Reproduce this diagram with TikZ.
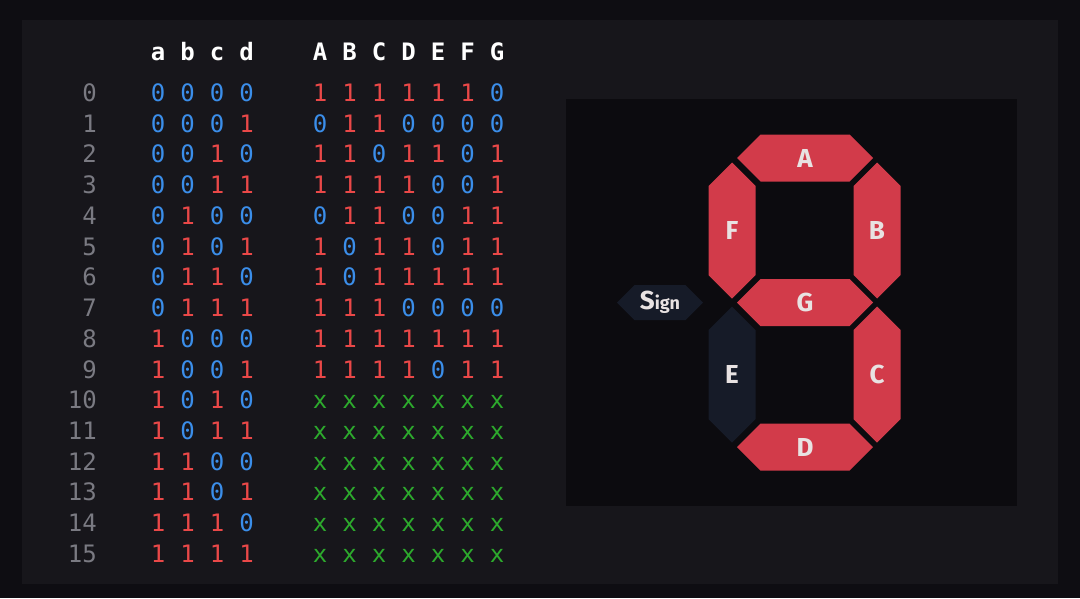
\documentclass[tikz,border=0pt]{standalone}
\usepackage{fontspec}
\setmonofont{DejaVu Sans Mono}
\setsansfont{Fira Sans}
\definecolor{bgout}{HTML}{0E0D12}
\definecolor{bgpanel}{HTML}{17161B}
\definecolor{bgbox}{HTML}{0C0B0F}
\definecolor{segon}{HTML}{D23B4A}
\definecolor{segoff}{HTML}{161B28}
\definecolor{labtxt}{HTML}{E8E2E2}
\definecolor{zeroblue}{HTML}{3B8EEA}
\definecolor{onered}{HTML}{EA4848}
\definecolor{dcgreen}{HTML}{2DAA2D}
\definecolor{rowgray}{HTML}{7A7A82}
% hexagonal segments around a named centre
\newcommand\hsegfill[2]{\fill[#2] (#1) ++(-68,0) -- ++(23.5,-23.5) -- ++(89,0) -- ++(23.5,23.5) -- ++(-23.5,23.5) -- ++(-89,0) -- cycle;}
\newcommand\vsegfill[2]{\fill[#2] (#1) ++(0,-68) -- ++(23.5,23.5) -- ++(0,89) -- ++(-23.5,23.5) -- ++(-23.5,-23.5) -- ++(0,-89) -- cycle;}

\begin{document}
\begin{tikzpicture}[x=1pt,y=-1pt,
  cell/.style={anchor=base,inner sep=0pt,font=\ttfamily\fontsize{24}{24}\selectfont},
  head/.style={cell,text=white,font=\ttfamily\bfseries\fontsize{24}{24}\selectfont},
  v0/.style={cell,text=zeroblue},
  v1/.style={cell,text=onered},
  vx/.style={cell,text=dcgreen},
  idx/.style={cell,anchor=base east,text=rowgray},
  seglab/.style={inner sep=0pt,text=labtxt,font=\sffamily\bfseries\fontsize{26}{26}\selectfont}]
\useasboundingbox (0,0) rectangle (1080,598);
\fill[bgout] (0,0) rectangle (1080,598);
\fill[bgpanel] (22,20) rectangle (1058,584);
\fill[bgbox] (566,99) rectangle (1017,506);

% headers
\foreach \h [count=\k] in {a,b,c,d}
  \node[head] (h-\h) at (158+29.5*\k-29.5,60) {\h};
\foreach \h [count=\k] in {A,B,C,D,E,F,G}
  \node[head] (h-\h) at (320+29.5*\k-29.5,60) {\h};

% truth table
\foreach \r/\row in {0/{0,0,0,0,1,1,1,1,1,1,0},1/{0,0,0,1,0,1,1,0,0,0,0},
    2/{0,0,1,0,1,1,0,1,1,0,1},3/{0,0,1,1,1,1,1,1,0,0,1},
    4/{0,1,0,0,0,1,1,0,0,1,1},5/{0,1,0,1,1,0,1,1,0,1,1},
    6/{0,1,1,0,1,0,1,1,1,1,1},7/{0,1,1,1,1,1,1,0,0,0,0},
    8/{1,0,0,0,1,1,1,1,1,1,1},9/{1,0,0,1,1,1,1,1,0,1,1},
    10/{1,0,1,0,x,x,x,x,x,x,x},11/{1,0,1,1,x,x,x,x,x,x,x},
    12/{1,1,0,0,x,x,x,x,x,x,x},13/{1,1,0,1,x,x,x,x,x,x,x},
    14/{1,1,1,0,x,x,x,x,x,x,x},15/{1,1,1,1,x,x,x,x,x,x,x}}{
  \node[idx] (n-\r) at (97,101.5+30.73*\r) {\r};
  \foreach \v [count=\k] in \row {
    \ifnum\k<5
      \node[v\v] (v-\r-\k) at (158+29.5*\k-29.5,101.5+30.73*\r) {\v};
    \else
      \node[v\v] (v-\r-\k) at (320+29.5*\k-147.5,101.5+30.73*\r) {\v};
    \fi
  }
}

% seven segment display
\coordinate (cA) at (805,158);
\coordinate (cF) at (732,230.5);
\coordinate (cB) at (877,230.5);
\coordinate (cG) at (805,302.5);
\coordinate (cE) at (732,374.5);
\coordinate (cC) at (877,374.5);
\coordinate (cD) at (805,447);
\hsegfill{cA}{segon} \node[seglab] (sA) at (cA) {A};
\vsegfill{cF}{segon} \node[seglab] (sF) at (cF) {F};
\vsegfill{cB}{segon} \node[seglab] (sB) at (cB) {B};
\hsegfill{cG}{segon} \node[seglab] (sG) at (cG) {G};
\vsegfill{cE}{segoff} \node[seglab] (sE) at (cE) {E};
\vsegfill{cC}{segon} \node[seglab] (sC) at (cC) {C};
\hsegfill{cD}{segon} \node[seglab] (sD) at (cD) {D};

% sign marker
\coordinate (cS) at (660,302.5);
\fill[segoff] (cS) ++(-43,0) -- ++(17.5,-17.5) -- ++(51,0) -- ++(17.5,17.5) -- ++(-17.5,17.5) -- ++(-51,0) -- cycle;
\node[seglab] (sign) at (cS) {S\fontsize{18}{18}\selectfont ign};
\end{tikzpicture}
\end{document}
